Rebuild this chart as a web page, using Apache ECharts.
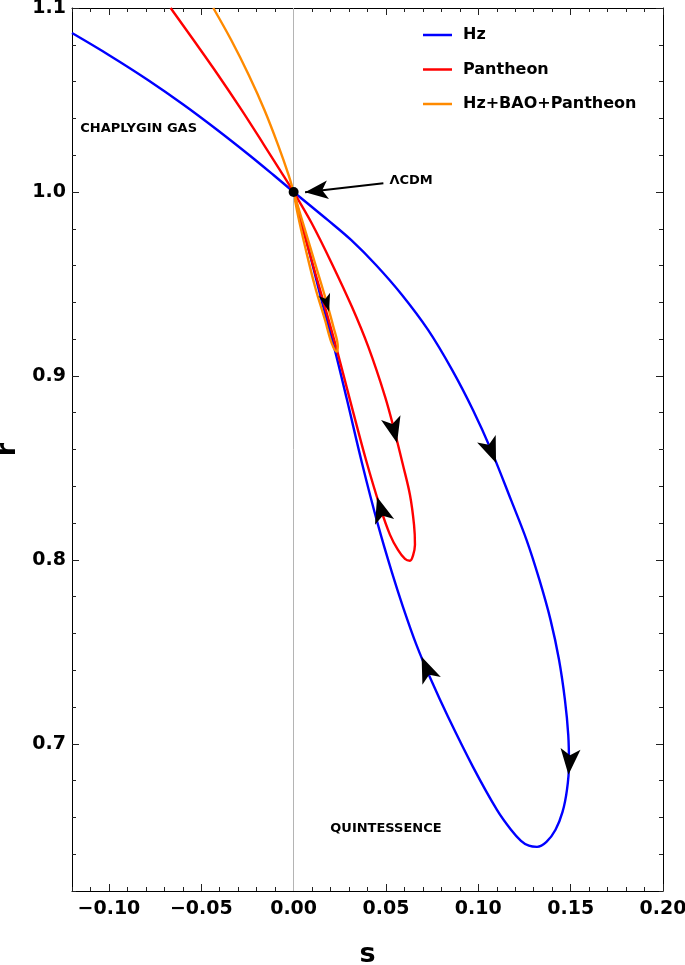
<!DOCTYPE html>
<html>
<head>
<meta charset="utf-8">
<script src="https://cdn.jsdelivr.net/npm/echarts@6/dist/echarts.min.js"></script>
<style>
  html, body { margin: 0; padding: 0; background: #fff; }
  #chart { width: 685px; height: 965px; }
</style>
</head>
<body>
<div id="chart"></div>
<script>
// tick labels
const sTicks = [-0.1, -0.05, 0, 0.05, 0.1, 0.15, 0.2];
const rTicks = [0.7, 0.8, 0.9, 1.0, 1.1];

// curves in the s-r plane, [s, r]
const hzCurve = [
  [-0.1200, 1.0864], [-0.1001, 1.0745], [-0.0789, 1.0609], [-0.0594, 1.0473],
  [-0.0413, 1.0337], [-0.0241, 1.0201], [-0.0109, 1.0092], [0, 1.0],
  [0.0086, 0.9929], [0.0184, 0.9848], [0.0311, 0.9739], [0.0446, 0.9603],
  [0.0587, 0.9440], [0.0728, 0.9250], [0.0858, 0.9033], [0.0971, 0.8815],
  [0.1069, 0.8598], [0.1177, 0.8326], [0.1261, 0.8109], [0.1331, 0.7891],
  [0.1391, 0.7674], [0.1437, 0.7457], [0.1469, 0.7239], [0.1487, 0.7049],
  [0.1491, 0.6886], [0.1480, 0.6750], [0.1456, 0.6630], [0.1418, 0.6533],
  [0.1369, 0.6467], [0.1318, 0.6440], [0.1274, 0.6446], [0.1231, 0.6473],
  [0.1177, 0.6533], [0.1101, 0.6641], [0.0971, 0.6875], [0.0836, 0.7147],
  [0.0744, 0.7348], [0.0665, 0.7538], [0.0592, 0.7745], [0.0533, 0.7929],
  [0.0457, 0.8190], [0.0370, 0.8527], [0.0289, 0.8870], [0.0219, 0.9158],
  [0.0148, 0.9424], [0.0089, 0.9658], [0.0040, 0.9848], [0, 1.0]
];
const pantheonCurve = [
  [-0.0666, 1.1000], [-0.0542, 1.0826], [-0.0409, 1.0636], [-0.0282, 1.0446],
  [-0.0160, 1.0255], [-0.0057, 1.0092], [0, 1.0],
  [0.0098, 0.9830], [0.0206, 0.9613], [0.0315, 0.9377], [0.0404, 0.9159],
  [0.0495, 0.8888], [0.0549, 0.8690], [0.0592, 0.8516], [0.0630, 0.8353],
  [0.0652, 0.8190], [0.0657, 0.8082], [0.0646, 0.8022], [0.0630, 0.7995],
  [0.0603, 0.8005], [0.0565, 0.8054], [0.0522, 0.8136], [0.0468, 0.8288],
  [0.0392, 0.8543], [0.0305, 0.8870], [0.0230, 0.9158], [0.0159, 0.9413],
  [0.0094, 0.9641], [0.0040, 0.9837], [0, 1.0]
];
const combinedCurve = [
  [-0.0435, 1.1000], [-0.0338, 1.0826], [-0.0243, 1.0636], [-0.0158, 1.0446],
  [-0.0084, 1.0255], [-0.0027, 1.0092], [0, 1.0],
  [0.0062, 0.9793], [0.0116, 0.9612], [0.0170, 0.9431], [0.0215, 0.9268],
  [0.0239, 0.9159], [0.0233, 0.9132], [0.0206, 0.9178], [0.0170, 0.9304],
  [0.0116, 0.9485], [0.0062, 0.9703], [0.0025, 0.9866], [0, 1.0]
];

// tips of the direction arrows on each curve
const hzArrows = [[0.1096, 0.8527], [0.1488, 0.6832], [0.0693, 0.7473]];
const pantheonArrows = [[0.0560, 0.8636], [0.0452, 0.8342]];
const combinedArrows = [[0.0192, 0.9349]];

const lcdmPoint = [0, 1.0];
const lcdmArrow = [[0.0486, 1.0047], [0.0062, 0.9998]];
const notes = [
  ["CHAPLYGIN GAS", -0.0839, 1.0342],
  ["QUINTESSENCE", 0.0500, 0.6538],
  ["ΛCDM", 0.0636, 1.0060]
];

const font = "DejaVu Sans";
const black = "#000";

const chart = echarts.init(document.getElementById("chart"));

function fmtS(v) {
  return v.toFixed(2).replace("-", "\u2212");
}

function xAxisPair(position, showLabel) {
  return [
    {
      type: "value", position: position, min: -0.12, max: 0.2,
      axisLine: { show: true, onZero: false, lineStyle: { color: black, width: 1 } },
      axisTick: { show: true, inside: true, length: 7, customValues: sTicks, lineStyle: { color: "#222" } },
      axisLabel: {
        show: showLabel, customValues: sTicks, margin: 9, formatter: fmtS,
        fontFamily: font, fontWeight: "bold", fontSize: 19, color: black
      },
      splitLine: { show: false }
    },
    {
      type: "value", position: position, min: -0.12, max: 0.2, interval: 0.01,
      axisLine: { show: false, onZero: false },
      axisTick: { show: true, inside: true, length: 4, lineStyle: { color: "#222" } },
      axisLabel: { show: false },
      splitLine: { show: false }
    }
  ];
}

function yAxisPair(position, showLabel) {
  return [
    {
      type: "value", position: position, min: 0.62, max: 1.1,
      axisLine: { show: true, onZero: false, lineStyle: { color: black, width: 1 } },
      axisTick: { show: true, inside: true, length: 7, customValues: rTicks, lineStyle: { color: "#222" } },
      axisLabel: {
        show: showLabel, customValues: rTicks, margin: 6,
        formatter: function (v) { return v.toFixed(1); },
        fontFamily: font, fontWeight: "bold", fontSize: 19, color: black
      },
      splitLine: { show: false }
    },
    {
      type: "value", position: position, min: 0.62, max: 1.1, interval: 0.02,
      axisLine: { show: false, onZero: false },
      axisTick: { show: true, inside: true, length: 4, lineStyle: { color: "#222" } },
      axisLabel: { show: false },
      splitLine: { show: false }
    }
  ];
}

const xAxes = xAxisPair("bottom", true).concat(xAxisPair("top", false));
const yAxes = yAxisPair("left", true).concat(yAxisPair("right", false));
xAxes[0].name = "s";
xAxes[0].nameLocation = "middle";
xAxes[0].nameGap = 50;
xAxes[0].nameTextStyle = { fontFamily: font, fontWeight: "bold", fontSize: 27, color: black };
yAxes[0].name = "r";
yAxes[0].nameLocation = "middle";
yAxes[0].nameGap = 48;
yAxes[0].nameTextStyle = { fontFamily: font, fontWeight: "bold", fontSize: 27, color: black };

function curveSeries(name, data, color) {
  return {
    name: name, type: "line", data: data, xAxisIndex: 0, yAxisIndex: 0,
    showSymbol: false, smooth: 0.35, color: color, z: 3,
    lineStyle: { color: color, width: 2.4 }
  };
}

const option = {
  animation: false,
  backgroundColor: "#fff",
  grid: { left: 72, right: 22, top: 8, bottom: 74, containLabel: false, outerBoundsMode: "none" },
  legend: {
    data: ["Hz", "Pantheon", "Hz+BAO+Pantheon"],
    orient: "vertical", left: 423, top: 26, padding: 0,
    icon: "rect", itemWidth: 29, itemHeight: 2.5, itemGap: 16.5,
    textStyle: { fontFamily: font, fontWeight: "bold", fontSize: 16, color: black, lineHeight: 18, padding: [0, 0, 0, 6] }
  },
  xAxis: xAxes,
  yAxis: yAxes,
  series: [
    {
      name: "zero", type: "line", data: [], xAxisIndex: 0, yAxisIndex: 0, z: 1,
      markLine: {
        silent: true, symbol: "none", label: { show: false },
        lineStyle: { color: "#b4b4b4", width: 1, type: "solid" },
        data: [{ xAxis: 0 }]
      }
    },
    curveSeries("Hz", hzCurve, "#0000ff"),
    curveSeries("Pantheon", pantheonCurve, "#ff0000"),
    curveSeries("Hz+BAO+Pantheon", combinedCurve, "#ff8a00"),
    {
      name: "notes", type: "scatter", xAxisIndex: 0, yAxisIndex: 0, silent: true, z: 9,
      symbolSize: 1, itemStyle: { color: "rgba(0,0,0,0)" },
      data: notes.map(function (n) { return [n[1], n[2], n[0]]; }),
      label: {
        show: true, position: "inside", formatter: function (p) { return p.value[2]; },
        fontFamily: font, fontWeight: "bold", fontSize: 13, color: black, opacity: 1
      }
    },
    {
      name: "lcdm", type: "scatter", xAxisIndex: 0, yAxisIndex: 0, silent: true, z: 8,
      symbolSize: 10, itemStyle: { color: black, opacity: 1 },
      data: [lcdmPoint],
      markLine: {
        silent: true, symbol: ["none", "arrow"], symbolSize: [14, 23],
        label: { show: false },
        lineStyle: { color: black, width: 2, type: "solid" },
        data: [[{ coord: lcdmArrow[0] }, { coord: lcdmArrow[1] }]]
      }
    }
  ]
};

chart.setOption(option);

// orient each arrowhead along the nearest stretch of its curve
function toPx(p) {
  return chart.convertToPixel({ xAxisIndex: 0, yAxisIndex: 0 }, p);
}
function segDist(p, a, b) {
  const vx = b[0] - a[0], vy = b[1] - a[1];
  const len = vx * vx + vy * vy || 1;
  let t = ((p[0] - a[0]) * vx + (p[1] - a[1]) * vy) / len;
  t = Math.max(0, Math.min(1, t));
  const dx = a[0] + t * vx - p[0], dy = a[1] + t * vy - p[1];
  return Math.sqrt(dx * dx + dy * dy);
}
function arrowItems(curve, points, size) {
  const px = curve.map(toPx);
  return points.map(function (p) {
    const pp = toPx(p);
    let best = 0, bestD = Infinity;
    for (let i = 0; i < px.length - 1; i++) {
      const d = segDist(pp, px[i], px[i + 1]);
      if (d < bestD) { bestD = d; best = i; }
    }
    const a = px[best], b = px[best + 1];
    const angle = Math.atan2(-(b[0] - a[0]), -(b[1] - a[1])) * 180 / Math.PI;
    return { value: p, symbolRotate: angle, symbolSize: size };
  });
}

const arrowData = arrowItems(hzCurve, hzArrows, [15, 26])
  .concat(arrowItems(pantheonCurve, pantheonArrows, [15, 26]))
  .concat(arrowItems(combinedCurve, combinedArrows, [9, 18]));

chart.setOption({
  series: option.series.concat([{
    name: "arrows", type: "scatter", xAxisIndex: 0, yAxisIndex: 0, silent: true, z: 6,
    symbol: "arrow", itemStyle: { color: black, opacity: 1 },
    data: arrowData
  }])
});
</script>
</body>
</html>
